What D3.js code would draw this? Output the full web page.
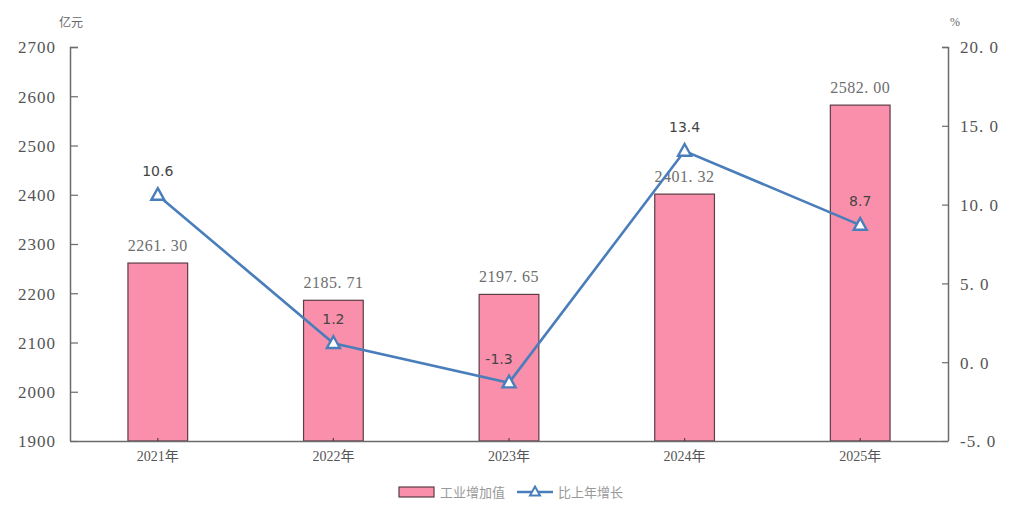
<!DOCTYPE html>
<html>
<head>
<meta charset="utf-8">
<script src="https://cdn.jsdelivr.net/npm/d3@7"></script>
<style>
  body { margin: 0; background: #fff; }
  svg { display: block; }
</style>
</head>
<body>
<svg id="chart"></svg>
<script>
let years = ["2021年", "2022年", "2023年", "2024年", "2025年"]
let addedValue = [2261.30, 2185.71, 2197.65, 2401.32, 2582.00]
let growth = [10.6, 1.2, -1.3, 13.4, 8.7]
let leftTicks = [1900, 2000, 2100, 2200, 2300, 2400, 2500, 2600, 2700]
let rightTicks = [-5, 0, 5, 10, 15, 20]
let seriesNames = ["工业增加值", "比上年增长"]

function getConfig(){
    let width = 1024;
    let height = 508;
    let margin = { top: 47, bottom: 67, left: 70, right: 76 };
    let bodyWidth = width - margin.left - margin.right;
    let bodyHeight = height - margin.top - margin.bottom;
    let container = d3.select("#chart")
        .attr("width", width)
        .attr("height", height);
    return { width, height, margin, bodyWidth, bodyHeight, container };
}

function getScales(config){
    let { bodyWidth, bodyHeight } = config;
    let xScale = d3.scaleBand()
        .domain(years)
        .range([0, bodyWidth])
        .paddingInner(0.66)
        .paddingOuter(0.33);
    let yLeft = d3.scaleLinear()
        .domain([1900, 2700])
        .range([bodyHeight, 0]);
    let yRight = d3.scaleLinear()
        .domain([-5, 20])
        .range([bodyHeight, 0]);
    return { xScale, yLeft, yRight };
}

const serif = "'Liberation Serif', 'DejaVu Serif', 'Noto Sans CJK SC', serif";
const cjk = "'Noto Sans CJK SC', sans-serif";
const barFill = "#f98fab";
const barStroke = "#5b3d45";
const lineColor = "#4a7ebb";
// plain hyphen minus, like the reference
const fmt1 = d => d3.format(".1f")(d).replace("−", "-");

function drawBars(config, scales){
    let { margin, container } = config;
    let { xScale, yLeft } = scales;
    let body = container.append("g")
        .attr("transform", `translate(${margin.left},${margin.top})`);
    body.selectAll(".bar")
        .data(addedValue)
        .enter().append("rect")
        .attr("class", "bar")
        .attr("x", (d, i) => xScale(years[i]))
        .attr("y", d => yLeft(d))
        .attr("width", xScale.bandwidth())
        .attr("height", d => yLeft(1900) - yLeft(d))
        .attr("fill", barFill)
        .attr("stroke", barStroke)
        .attr("stroke-width", 1.2);
    body.selectAll(".bar-label")
        .data(addedValue)
        .enter().append("text")
        .attr("class", "bar-label")
        .attr("x", (d, i) => xScale(years[i]) + xScale.bandwidth() / 2)
        .attr("y", d => yLeft(d) - 12)
        .attr("text-anchor", "middle")
        .style("font-family", serif)
        .style("font-size", "16px")
        .style("letter-spacing", "0.5px")
        .style("fill", "#6e6e6e")
        .text(d => d3.format(".2f")(d).replace(".", ". "));
}

function drawAxes(config, scales){
    let { margin, container, bodyWidth, bodyHeight } = config;
    let { xScale, yLeft, yRight } = scales;

    let axisL = d3.axisRight(yLeft).tickValues(leftTicks).tickSize(8).tickFormat(d3.format("d"));
    let gL = container.append("g")
        .attr("transform", `translate(${margin.left},${margin.top})`)
        .call(axisL);
    gL.select(".domain").attr("d", `M8,0.5H0.5V${bodyHeight}`);
    gL.selectAll("text").attr("x", -14).attr("text-anchor", "end");

    let axisR = d3.axisLeft(yRight).tickValues(rightTicks).tickSize(6)
        .tickFormat(d => fmt1(d).replace(".", ". "));
    let gR = container.append("g")
        .attr("transform", `translate(${margin.left + bodyWidth},${margin.top})`)
        .call(axisR);
    gR.select(".domain").attr("d", `M-6,0.5H0.5V${bodyHeight}`);
    gR.selectAll("text").attr("x", 12).attr("text-anchor", "start");

    let axisX = d3.axisTop(xScale).tickSize(3).tickSizeOuter(0);
    let gX = container.append("g")
        .attr("transform", `translate(${margin.left},${margin.top + bodyHeight})`)
        .call(axisX);
    gX.selectAll("text").attr("y", 20).attr("dy", "0");

    [gL, gR, gX].forEach(g => {
        g.selectAll(".domain").attr("stroke", "#6b6b6b").attr("stroke-width", 1.5).attr("fill", "none");
        g.selectAll(".tick line").attr("stroke", "#6b6b6b").attr("stroke-width", 1.2);
    });
    [gL, gR].forEach(g => {
        g.selectAll(".tick text")
            .style("font-family", serif)
            .style("font-size", "17px")
            .style("letter-spacing", "1px")
            .style("fill", "#555")
            .attr("dy", "0.35em");
    });
    gX.selectAll(".tick text")
        .style("font-family", serif)
        .style("font-size", "14px")
        .style("fill", "#555");
    gX.selectAll(".tick line").attr("stroke", barStroke);

    container.append("text")
        .attr("x", 71).attr("y", 27)
        .attr("text-anchor", "middle")
        .style("font-family", cjk)
        .style("font-size", "12px")
        .style("fill", "#666")
        .text("亿元");
    container.append("text")
        .attr("x", 955).attr("y", 26)
        .attr("text-anchor", "middle")
        .style("font-family", serif)
        .style("font-size", "12px")
        .style("fill", "#666")
        .text("%");
}

function triangle(cx, cy, s){
    let h = s * 0.9;
    return `M${cx},${cy - h * 0.6}L${cx + s / 2},${cy + h * 0.4}L${cx - s / 2},${cy + h * 0.4}Z`;
}

function drawLine(config, scales){
    let { margin, container } = config;
    let { xScale, yRight } = scales;
    let cx = i => xScale(years[i]) + xScale.bandwidth() / 2;
    let body = container.append("g")
        .attr("transform", `translate(${margin.left},${margin.top})`);
    let line = d3.line()
        .x((d, i) => cx(i))
        .y(d => yRight(d));
    body.append("path")
        .datum(growth)
        .attr("d", line)
        .attr("fill", "none")
        .attr("stroke", lineColor)
        .attr("stroke-width", 2.6);
    body.selectAll(".marker")
        .data(growth)
        .enter().append("path")
        .attr("class", "marker")
        .attr("d", (d, i) => triangle(cx(i), yRight(d), 13))
        .attr("fill", "#fff")
        .attr("stroke", lineColor)
        .attr("stroke-width", 2.4);
    body.selectAll(".line-label")
        .data(growth)
        .enter().append("text")
        .attr("class", "line-label")
        .attr("x", (d, i) => cx(i) - (d < 0 ? 10 : 0))
        .attr("y", d => yRight(d) - 19)
        .attr("text-anchor", "middle")
        .style("font-family", "'DejaVu Sans', sans-serif")
        .style("font-size", "14px")
        .style("fill", "#444")
        .text(d => fmt1(d));
}

function drawLegend(config){
    let { container } = config;
    let g = container.append("g");
    g.append("rect")
        .attr("x", 399).attr("y", 487)
        .attr("width", 35).attr("height", 10)
        .attr("fill", barFill)
        .attr("stroke", barStroke)
        .attr("stroke-width", 1.2);
    g.append("text")
        .attr("x", 440).attr("y", 497)
        .style("font-family", cjk)
        .style("font-size", "13px")
        .style("fill", "#999")
        .text(seriesNames[0]);
    g.append("line")
        .attr("x1", 517).attr("x2", 553)
        .attr("y1", 492).attr("y2", 492)
        .attr("stroke", lineColor)
        .attr("stroke-width", 2.4);
    g.append("path")
        .attr("d", triangle(535, 492, 10))
        .attr("fill", "#fff")
        .attr("stroke", lineColor)
        .attr("stroke-width", 2);
    g.append("text")
        .attr("x", 558).attr("y", 497)
        .style("font-family", cjk)
        .style("font-size", "13px")
        .style("fill", "#999")
        .text(seriesNames[1]);
}

let config = getConfig();
let scales = getScales(config);
drawBars(config, scales);
drawAxes(config, scales);
drawLine(config, scales);
drawLegend(config);
</script>
</body>
</html>
